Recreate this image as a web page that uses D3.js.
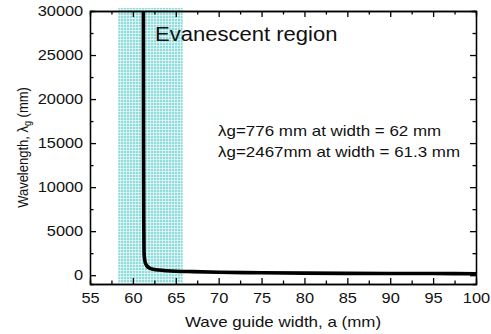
<!DOCTYPE html>
<html>
<head>
<meta charset="utf-8">
<script src="https://cdn.jsdelivr.net/npm/d3@7"></script>
<style>
  body { margin: 0; background: #fff; }
  text { font-family: Arial, "Liberation Sans", sans-serif; fill: #111; }
</style>
</head>
<body>
<div id="chart"></div>
<script>
// waveguide width (mm) vs guided wavelength (mm)
const widthMm = [61.22, 61.24, 61.27, 61.3, 61.4, 61.6, 62, 62.5, 63, 64, 65, 67, 70, 75, 80, 85, 90, 95, 100];
const wavelengthMm = [30000, 15000, 6000, 2467, 1600, 1100, 776, 650, 580, 500, 450, 400, 340, 270, 230, 210, 195, 185, 170];

const xTicks = [55, 60, 65, 70, 75, 80, 85, 90, 95, 100];
const yTicks = [0, 5000, 10000, 15000, 20000, 25000, 30000];
const evanescentRange = [58.3, 65.8];
const notes = ["\u03bbg=776 mm at width = 62 mm", "\u03bbg=2467mm at width = 61.3 mm"];

const W = 491, H = 334;
const plot = {left: 90, right: 476, top: 11, bottom: 284};
const sx = 1.13; // the original is stretched a bit horizontally

const svg = d3.select("#chart").append("svg")
    .attr("width", W).attr("height", H);

const x = d3.scaleLinear().domain([55, 100]).range([plot.left, plot.right]);
const y = d3.scaleLinear().domain([-1000, 30000]).range([plot.bottom, plot.top]);

// hatched cyan band
const pat = svg.append("defs").append("pattern")
    .attr("id", "grid").attr("patternUnits", "userSpaceOnUse")
    .attr("width", 3).attr("height", 3);
pat.append("rect").attr("width", 3).attr("height", 3).attr("fill", "#8edcdc");
pat.append("rect").attr("width", 3).attr("height", 1).attr("fill", "#fff").attr("opacity", 0.6);
pat.append("rect").attr("width", 1).attr("height", 3).attr("fill", "#fff").attr("opacity", 0.6);

svg.append("rect")
    .attr("x", x(evanescentRange[0]))
    .attr("width", x(evanescentRange[1]) - x(evanescentRange[0]))
    .attr("y", y(30350))
    .attr("height", y(-900) - y(30350))
    .attr("fill", "url(#grid)");

// curve
const pts = widthMm.map((w, i) => [w, wavelengthMm[i]]);
svg.append("path")
    .datum(pts)
    .attr("d", d3.line().x(d => x(d[0])).y(d => y(d[1])).curve(d3.curveMonotoneX))
    .attr("fill", "none")
    .attr("stroke", "#000")
    .attr("stroke-width", 3.6)
    .attr("stroke-linejoin", "round");

// minor ticks
const minorX = d3.range(57.5, 100, 5);
const minorY = d3.range(2500, 30000, 5000);
function styleAxis(g) {
  g.selectAll("path, line").attr("stroke", "#000").attr("stroke-width", 1.3);
}
svg.append("g").attr("transform", `translate(0,${plot.bottom})`)
   .call(d3.axisBottom(x).tickValues(minorX).tickSize(-3.5).tickFormat("")).call(styleAxis);
svg.append("g").attr("transform", `translate(0,${plot.top})`)
   .call(d3.axisTop(x).tickValues(minorX).tickSize(-3.5).tickFormat("")).call(styleAxis);
svg.append("g").attr("transform", `translate(${plot.left},0)`)
   .call(d3.axisLeft(y).tickValues(minorY).tickSize(-3.5).tickFormat("")).call(styleAxis);
svg.append("g").attr("transform", `translate(${plot.right},0)`)
   .call(d3.axisRight(y).tickValues(minorY).tickSize(-3.5).tickFormat("")).call(styleAxis);

// major axes
const xAxis = svg.append("g").attr("transform", `translate(0,${plot.bottom})`)
   .call(d3.axisBottom(x).tickValues(xTicks).tickSizeInner(-6).tickSizeOuter(0).tickPadding(9))
   .call(styleAxis);
xAxis.selectAll("text").attr("font-size", 14.5).attr("font-family", null)
   .attr("transform", `scale(${sx},1)`);

const yAxis = svg.append("g").attr("transform", `translate(${plot.left},0)`)
   .call(d3.axisLeft(y).tickValues(yTicks).tickSizeInner(-6).tickSizeOuter(0).tickPadding(6)
        .tickFormat(d3.format("d")))
   .call(styleAxis);
yAxis.selectAll("text").attr("font-size", 14.5).attr("font-family", null)
   .attr("transform", `scale(${sx},1)`);

svg.append("g").attr("transform", `translate(0,${plot.top})`)
   .call(d3.axisTop(x).tickValues(xTicks).tickSizeInner(-6).tickSizeOuter(0).tickFormat(""))
   .call(styleAxis);
svg.append("g").attr("transform", `translate(${plot.right},0)`)
   .call(d3.axisRight(y).tickValues(yTicks).tickSizeInner(-6).tickSizeOuter(0).tickFormat(""))
   .call(styleAxis);

// axis titles
svg.append("text")
   .attr("transform", `translate(${(plot.left + plot.right) / 2},327) scale(${sx},1)`)
   .attr("text-anchor", "middle").attr("font-size", 15)
   .text("Wave guide width, a (mm)");

const yTitle = svg.append("text")
   .attr("transform", `translate(28,${(plot.top + plot.bottom) / 2}) rotate(-90) scale(1,${sx})`)
   .attr("text-anchor", "middle").attr("font-size", 13);
yTitle.append("tspan").text("Wavelength, \u03bb");
yTitle.append("tspan").attr("font-size", 9).attr("dy", 3).text("g");
yTitle.append("tspan").attr("dy", -3).text(" (mm)");

// annotations
svg.append("text")
   .attr("transform", `translate(155,41) scale(${sx},1)`)
   .attr("font-size", 19.5)
   .text("Evanescent region");

svg.selectAll("text.note").data(notes).enter().append("text")
   .attr("class", "note")
   .attr("transform", (d, i) => `translate(218,${135.5 + i * 21.2}) scale(${sx},1)`)
   .attr("font-size", 15)
   .text(d => d);
</script>
</body>
</html>
